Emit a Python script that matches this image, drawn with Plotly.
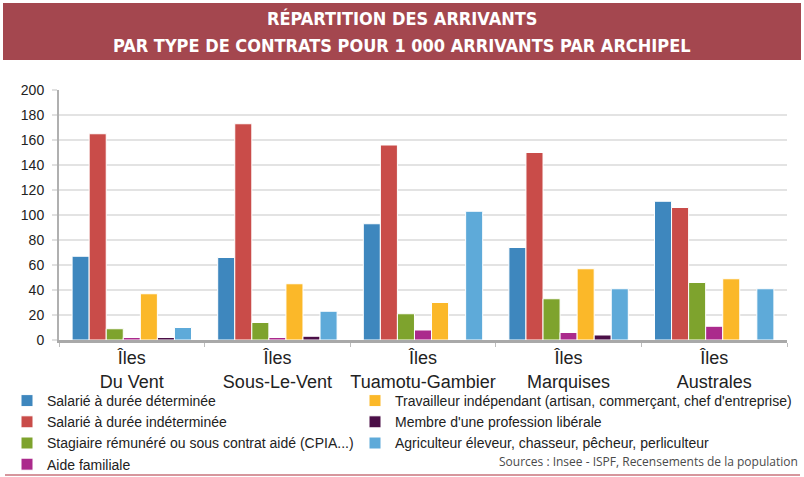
import plotly.graph_objects as go

# Archipels (catégories) et effectifs pour 1 000 arrivants
archipels = ["Îles<br>Du Vent", "Îles<br>Sous-Le-Vent", "Îles<br>Tuamotu-Gambier",
             "Îles<br>Marquises", "Îles<br>Australes"]

salarie_cdd = [67, 66, 93, 74, 111]
salarie_cdi = [165, 173, 156, 150, 106]
stagiaire = [9, 14, 21, 33, 46]
aide_familiale = [2, 2, 8, 6, 11]
independant = [37, 45, 30, 57, 49]
liberale = [2, 3, 0, 4, 0]
agriculteur = [10, 23, 103, 41, 41]

series = [
    ("Salarié à durée déterminée", salarie_cdd, "#3e87be", "legend"),
    ("Salarié à durée indéterminée", salarie_cdi, "#c94c49", "legend"),
    ("Stagiaire rémunéré ou sous contrat aidé (CPIA...)", stagiaire, "#7ea32d", "legend"),
    ("Aide familiale", aide_familiale, "#ab2a8c", "legend"),
    ("Travailleur indépendant (artisan, commerçant, chef d'entreprise)", independant, "#fbb829", "legend2"),
    ("Membre d'une profession libérale", liberale, "#4b0f47", "legend2"),
    ("Agriculteur éleveur, chasseur, pêcheur, perliculteur", agriculteur, "#5eaad9", "legend2"),
]

W, H = 804, 477
L, R, T, B = 59, 17, 90, 137
PW, PH = W - L - R, H - T - B


def px_x(x):
    return (x - L) / PW


def px_y(y):
    return (H - B - y) / PH


fig = go.Figure()
for name, vals, color, leg in series:
    fig.add_trace(go.Bar(
        x=archipels, y=vals, name=name, legend=leg,
        marker=dict(color=color, line=dict(color="white", width=1)),
    ))

txt = "#222222"
title_font = dict(family="DejaVu Sans Condensed, DejaVu Sans, sans-serif", size=18, color="white")
fig.update_layout(
    width=W, height=H,
    margin=dict(l=L, r=R, t=T, b=B, autoexpand=False),
    paper_bgcolor="white", plot_bgcolor="white",
    barmode="group", bargap=0.18, bargroupgap=0,
    font=dict(family="Liberation Sans, Arial, sans-serif", color=txt),
    xaxis=dict(
        showline=True, linecolor="#a9a9a9", linewidth=2.5,
        ticks="outside", tickson="boundaries", ticklen=4, tickcolor="#bdbdbd",
        tickfont=dict(size=18, color=txt), tickangle=0, showgrid=False,
    ),
    yaxis=dict(
        range=[0, 200], dtick=20, showline=True, linecolor="#b0b0b0", linewidth=2,
        ticks="outside", ticklen=5, tickcolor="#e0e0e0", tickwidth=1.5,
        gridcolor="#e3e3e3", gridwidth=1.5, zeroline=False,
        tickfont=dict(size=14, color=txt), ticklabelstandoff=5,
    ),
    legend=dict(
        xref="paper", yref="paper", x=px_x(7), y=px_y(385),
        xanchor="left", yanchor="top", orientation="v",
        font=dict(size=14, color=txt), bgcolor="rgba(0,0,0,0)",
    ),
    legend2=dict(
        xref="paper", yref="paper", x=px_x(355), y=px_y(385),
        xanchor="left", yanchor="top", orientation="v",
        font=dict(size=14, color=txt), bgcolor="rgba(0,0,0,0)",
    ),
    shapes=[
        dict(type="rect", xref="paper", yref="paper",
             x0=px_x(3), x1=px_x(801), y0=px_y(60), y1=px_y(3),
             fillcolor="#a4474f", line=dict(width=0), layer="above"),
        dict(type="line", xref="paper", yref="paper",
             x0=px_x(5), x1=px_x(800), y0=px_y(475), y1=px_y(475),
             line=dict(color="#c9737d", width=1.5)),
    ],
    annotations=[
        dict(text="<b>RÉPARTITION DES ARRIVANTS</b>", xref="paper", yref="paper",
             x=px_x(402), y=px_y(19), xanchor="center", yanchor="middle",
             showarrow=False, font=title_font),
        dict(text="<b>PAR TYPE DE CONTRATS POUR 1 000 ARRIVANTS PAR ARCHIPEL</b>",
             xref="paper", yref="paper", x=px_x(402), y=px_y(45),
             xanchor="center", yanchor="middle", showarrow=False, font=title_font),
        dict(text="Sources : Insee - ISPF, Recensements de la population",
             xref="paper", yref="paper", x=px_x(800), y=px_y(461),
             xanchor="right", yanchor="middle", showarrow=False,
             font=dict(family="Open Sans, sans-serif", size=12, color="#4a4a4a")),
    ],
)

fig.write_html("out.html")
